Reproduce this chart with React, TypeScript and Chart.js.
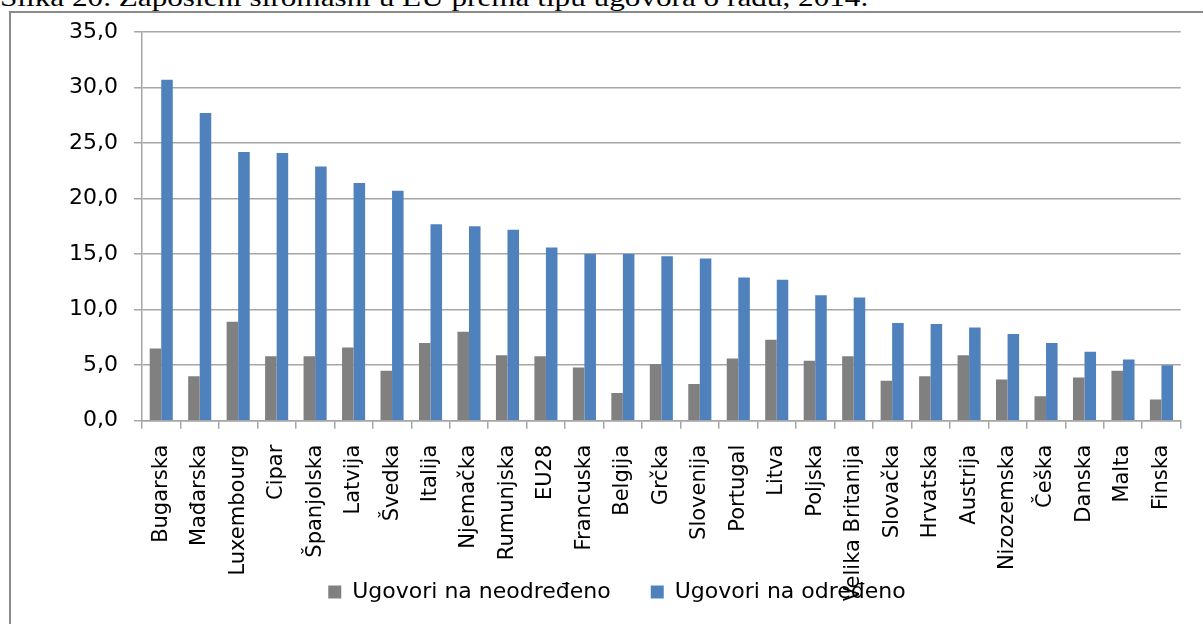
import React, { useEffect, useRef } from "react";
import { Chart, registerables } from "chart.js";

Chart.register(...registerables);

const caption = "Slika 20. Zaposleni siromašni u EU prema tipu ugovora o radu, 2014.";

const categories = [
  "Bugarska", "Mađarska", "Luxembourg", "Cipar", "Španjolska", "Latvija", "Švedka",
  "Italija", "Njemačka", "Rumunjska", "EU28", "Francuska", "Belgija", "Grčka",
  "Slovenija", "Portugal", "Litva", "Poljska", "Velika Britanija", "Slovačka",
  "Hrvatska", "Austrija", "Nizozemska", "Češka", "Danska", "Malta", "Finska",
];

const seriesNames = ["Ugovori na neodređeno", "Ugovori na određeno"];

const indefinite = [
  6.5, 4.0, 8.9, 5.8, 5.8, 6.6, 4.5, 7.0, 8.0, 5.9, 5.8, 4.8, 2.5, 5.1,
  3.3, 5.6, 7.3, 5.4, 5.8, 3.6, 4.0, 5.9, 3.7, 2.2, 3.9, 4.5, 1.9,
];

const fixedTerm = [
  30.7, 27.7, 24.2, 24.1, 22.9, 21.4, 20.7, 17.7, 17.5, 17.2, 15.6, 15.0, 15.0, 14.8,
  14.6, 12.9, 12.7, 11.3, 11.1, 8.8, 8.7, 8.4, 7.8, 7.0, 6.2, 5.5, 5.0,
];

const yMin = 0;
const yMax = 35;
const yStep = 5;

const FONT = "'DejaVu Sans', Verdana, sans-serif";

const unclipXLabels = {
  id: "unclipXLabels",
  afterLayout(chart: any) {
    const x = chart.scales.x;
    if (x) x.bottom = chart.height;
  },
};

export default function App() {
  const ref = useRef<HTMLCanvasElement>(null);

  useEffect(() => {
    const bigFont = { family: FONT, size: 22 };
    const xFont = { family: FONT, size: 21 };
    const gridColor = "#a6a6a6";
    const chart = new Chart(ref.current as HTMLCanvasElement, {
      type: "bar",
      data: {
        labels: categories,
        datasets: [
          {
            label: seriesNames[0],
            data: indefinite,
            backgroundColor: "#808080",
            categoryPercentage: 0.6,
            barPercentage: 1.0,
          },
          {
            label: seriesNames[1],
            data: fixedTerm,
            backgroundColor: "#4f81bd",
            categoryPercentage: 0.6,
            barPercentage: 1.0,
          },
        ],
      },
      plugins: [unclipXLabels],
      options: {
        animation: false,
        responsive: false,
        maintainAspectRatio: false,
        layout: { padding: { top: 32, right: 19, bottom: 11, left: 50 } },
        plugins: {
          legend: {
            position: "bottom",
            labels: {
              boxWidth: 13,
              boxHeight: 13,
              padding: 40,
              color: "#000",
              font: bigFont,
            },
          },
          tooltip: { enabled: false },
        },
        scales: {
          x: {
            grid: {
              display: true,
              drawOnChartArea: false,
              tickLength: 8,
              color: gridColor,
              lineWidth: 1.5,
            },
            border: { color: gridColor, width: 1.5 },
            ticks: {
              autoSkip: false,
              minRotation: 90,
              maxRotation: 90,
              padding: 16,
              color: "#000",
              font: xFont,
            },
            afterFit: (s: any) => {
              s.height = 120.3;
            },
          },
          y: {
            min: yMin,
            max: yMax,
            ticks: {
              stepSize: yStep,
              padding: 16,
              color: "#000",
              font: bigFont,
              callback: (v: any) => Number(v).toFixed(1).replace(".", ","),
            },
            grid: { color: gridColor, lineWidth: 1.5, tickLength: 8 },
            border: { color: gridColor, width: 1.5 },
            afterFit: (s: any) => {
              s.width = 92;
            },
          },
        },
      },
    });
    return () => chart.destroy();
  }, []);

  return (
    <div style={{ position: "absolute", left: 0, top: 0, width: 1203, height: 624, overflow: "hidden", background: "#fff" }}>
      <div
        style={{
          position: "absolute",
          left: 0,
          top: -15,
          fontFamily: "'Liberation Serif', 'Times New Roman', serif",
          fontSize: 26,
          lineHeight: "26px",
          whiteSpace: "nowrap",
          color: "#000",
          transform: "scaleX(1.2)",
          transformOrigin: "0 0",
        }}
      >
        {caption}
      </div>
      <div style={{ position: "absolute", left: 9, top: 11, width: 1194, height: 2, background: "#8a8a8a" }} />
      <div style={{ position: "absolute", left: 9, top: 11, width: 2, height: 613, background: "#8a8a8a" }} />
      <canvas
        ref={ref}
        width={1203}
        height={624}
        style={{ position: "absolute", left: 0, top: 0, display: "block" }}
      />
    </div>
  );
}
